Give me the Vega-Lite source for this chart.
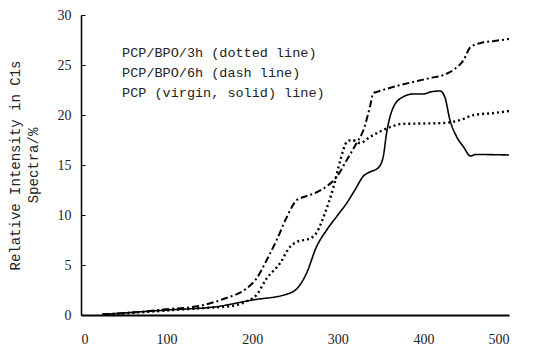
{
  "$schema": "https://vega.github.io/schema/vega-lite/v6.json",
  "width": 428,
  "height": 300,
  "autosize": "none",
  "padding": {"left": 81, "top": 15, "right": 29, "bottom": 34},
  "background": "white",
  "config": {"view": {"stroke": null}},
  "datasets": {
    "curves": [
      {"s": "solid", "x": 25, "y": 0.05},
      {"s": "solid", "x": 100, "y": 0.5},
      {"s": "solid", "x": 158, "y": 0.83},
      {"s": "solid", "x": 200, "y": 1.5},
      {"s": "solid", "x": 240, "y": 2.07},
      {"s": "solid", "x": 254, "y": 2.8},
      {"s": "solid", "x": 263.6, "y": 4.2},
      {"s": "solid", "x": 275, "y": 6.8},
      {"s": "solid", "x": 287, "y": 8.5},
      {"s": "solid", "x": 300, "y": 10},
      {"s": "solid", "x": 310.5, "y": 11.2},
      {"s": "solid", "x": 320, "y": 12.5},
      {"s": "solid", "x": 330, "y": 13.9},
      {"s": "solid", "x": 337.5, "y": 14.3},
      {"s": "solid", "x": 347, "y": 14.7},
      {"s": "solid", "x": 353, "y": 15.8},
      {"s": "solid", "x": 357, "y": 18.2},
      {"s": "solid", "x": 365, "y": 20.8},
      {"s": "solid", "x": 376, "y": 21.8},
      {"s": "solid", "x": 388, "y": 22.1},
      {"s": "solid", "x": 400, "y": 22.1},
      {"s": "solid", "x": 408, "y": 22.3},
      {"s": "solid", "x": 419.5, "y": 22.4},
      {"s": "solid", "x": 425, "y": 21.8},
      {"s": "solid", "x": 431, "y": 19.5},
      {"s": "solid", "x": 439, "y": 17.8},
      {"s": "solid", "x": 447, "y": 16.8},
      {"s": "solid", "x": 455, "y": 15.9},
      {"s": "solid", "x": 461, "y": 16.05},
      {"s": "solid", "x": 500, "y": 16.0},
      {"s": "dash", "x": 25, "y": 0.07},
      {"s": "dash", "x": 72.8, "y": 0.33},
      {"s": "dash", "x": 98.6, "y": 0.57},
      {"s": "dash", "x": 137.5, "y": 0.9},
      {"s": "dash", "x": 168.7, "y": 1.67},
      {"s": "dash", "x": 192, "y": 2.57},
      {"s": "dash", "x": 205.2, "y": 3.67},
      {"s": "dash", "x": 217, "y": 5.5},
      {"s": "dash", "x": 228.6, "y": 7.5},
      {"s": "dash", "x": 240.5, "y": 9.8},
      {"s": "dash", "x": 252, "y": 11.5},
      {"s": "dash", "x": 260, "y": 11.8},
      {"s": "dash", "x": 273.6, "y": 12.2},
      {"s": "dash", "x": 289, "y": 13},
      {"s": "dash", "x": 298.6, "y": 13.8},
      {"s": "dash", "x": 310.5, "y": 15.5},
      {"s": "dash", "x": 322, "y": 17.2},
      {"s": "dash", "x": 330, "y": 18.5},
      {"s": "dash", "x": 337.5, "y": 20.8},
      {"s": "dash", "x": 341.6, "y": 22.2},
      {"s": "dash", "x": 345.5, "y": 22.3},
      {"s": "dash", "x": 349, "y": 22.4},
      {"s": "dash", "x": 408, "y": 23.7},
      {"s": "dash", "x": 423.5, "y": 24},
      {"s": "dash", "x": 435, "y": 24.5},
      {"s": "dash", "x": 447, "y": 25.5},
      {"s": "dash", "x": 455, "y": 26.8},
      {"s": "dash", "x": 467, "y": 27.2},
      {"s": "dash", "x": 483, "y": 27.4},
      {"s": "dash", "x": 500, "y": 27.6},
      {"s": "dotted", "x": 25, "y": 0.02},
      {"s": "dotted", "x": 80.6, "y": 0.33},
      {"s": "dotted", "x": 137.5, "y": 0.67},
      {"s": "dotted", "x": 176.5, "y": 0.9},
      {"s": "dotted", "x": 192, "y": 1.33},
      {"s": "dotted", "x": 205, "y": 2},
      {"s": "dotted", "x": 217, "y": 3.67},
      {"s": "dotted", "x": 232.5, "y": 5.17},
      {"s": "dotted", "x": 244, "y": 6.8},
      {"s": "dotted", "x": 252, "y": 7.3},
      {"s": "dotted", "x": 268, "y": 7.67},
      {"s": "dotted", "x": 275, "y": 8.2},
      {"s": "dotted", "x": 285, "y": 10.2},
      {"s": "dotted", "x": 295, "y": 12.8},
      {"s": "dotted", "x": 303, "y": 15.5},
      {"s": "dotted", "x": 310.5, "y": 17.3},
      {"s": "dotted", "x": 316.4, "y": 17.5},
      {"s": "dotted", "x": 326, "y": 17.2},
      {"s": "dotted", "x": 337.5, "y": 17.8},
      {"s": "dotted", "x": 353, "y": 18.5},
      {"s": "dotted", "x": 365, "y": 18.9},
      {"s": "dotted", "x": 373, "y": 19.1},
      {"s": "dotted", "x": 423.5, "y": 19.2},
      {"s": "dotted", "x": 443, "y": 19.5},
      {"s": "dotted", "x": 459, "y": 20},
      {"s": "dotted", "x": 483, "y": 20.2},
      {"s": "dotted", "x": 500, "y": 20.4}
    ],
    "notes": [
      {"x": 48, "y": 26.2, "t": "PCP/BPO/3h (dotted line)"},
      {"x": 48, "y": 24.2, "t": "PCP/BPO/6h (dash line)"},
      {"x": 48, "y": 22.2, "t": "PCP (virgin, solid) line)"}
    ]
  },
  "layer": [
    {
      "data": {"name": "curves"},
      "mark": {"type": "line", "color": "black", "interpolate": "monotone"},
      "encoding": {
        "x": {
          "field": "x", "type": "quantitative",
          "scale": {"domain": [0, 500], "nice": false},
          "axis": {
            "values": [0, 100, 200, 300, 400, 500],
            "title": null, "grid": false, "ticks": false,
            "domainColor": "black", "domainWidth": 2,
            "labelFont": "Liberation Serif", "labelFontSize": 14, "labelColor": "#222",
            "labelPadding": 17
          }
        },
        "y": {
          "field": "y", "type": "quantitative",
          "scale": {"domain": [0, 30], "nice": false},
          "axis": {
            "values": [0, 5, 10, 15, 20, 25, 30],
            "title": ["Relative Intensity in C1s", "Spectra/%"],
            "titleFont": "Liberation Mono", "titleFontSize": 14, "titleFontWeight": "normal",
            "titleColor": "#222", "titlePadding": 17, "titleLineHeight": 18,
            "grid": false, "tickSize": -4, "tickColor": "black",
            "domainColor": "black", "domainWidth": 1.5,
            "labelFont": "Liberation Serif", "labelFontSize": 14, "labelColor": "#222",
            "labelPadding": 14
          }
        },
        "detail": {"field": "s"},
        "strokeDash": {
          "field": "s", "type": "nominal", "legend": null,
          "scale": {"domain": ["solid", "dash", "dotted"], "range": [[1, 0], [7, 3, 2, 3], [2, 3]]}
        },
        "strokeWidth": {
          "field": "s", "type": "nominal", "legend": null,
          "scale": {"domain": ["solid", "dash", "dotted"], "range": [1.6, 2.4, 1.4]}
        }
      }
    },
    {
      "data": {"name": "notes"},
      "mark": {"type": "text", "align": "left", "baseline": "middle", "font": "Liberation Mono", "fontSize": 13.5, "color": "#222"},
      "encoding": {
        "x": {"field": "x", "type": "quantitative"},
        "y": {"field": "y", "type": "quantitative"},
        "text": {"field": "t"}
      }
    }
  ]
}
